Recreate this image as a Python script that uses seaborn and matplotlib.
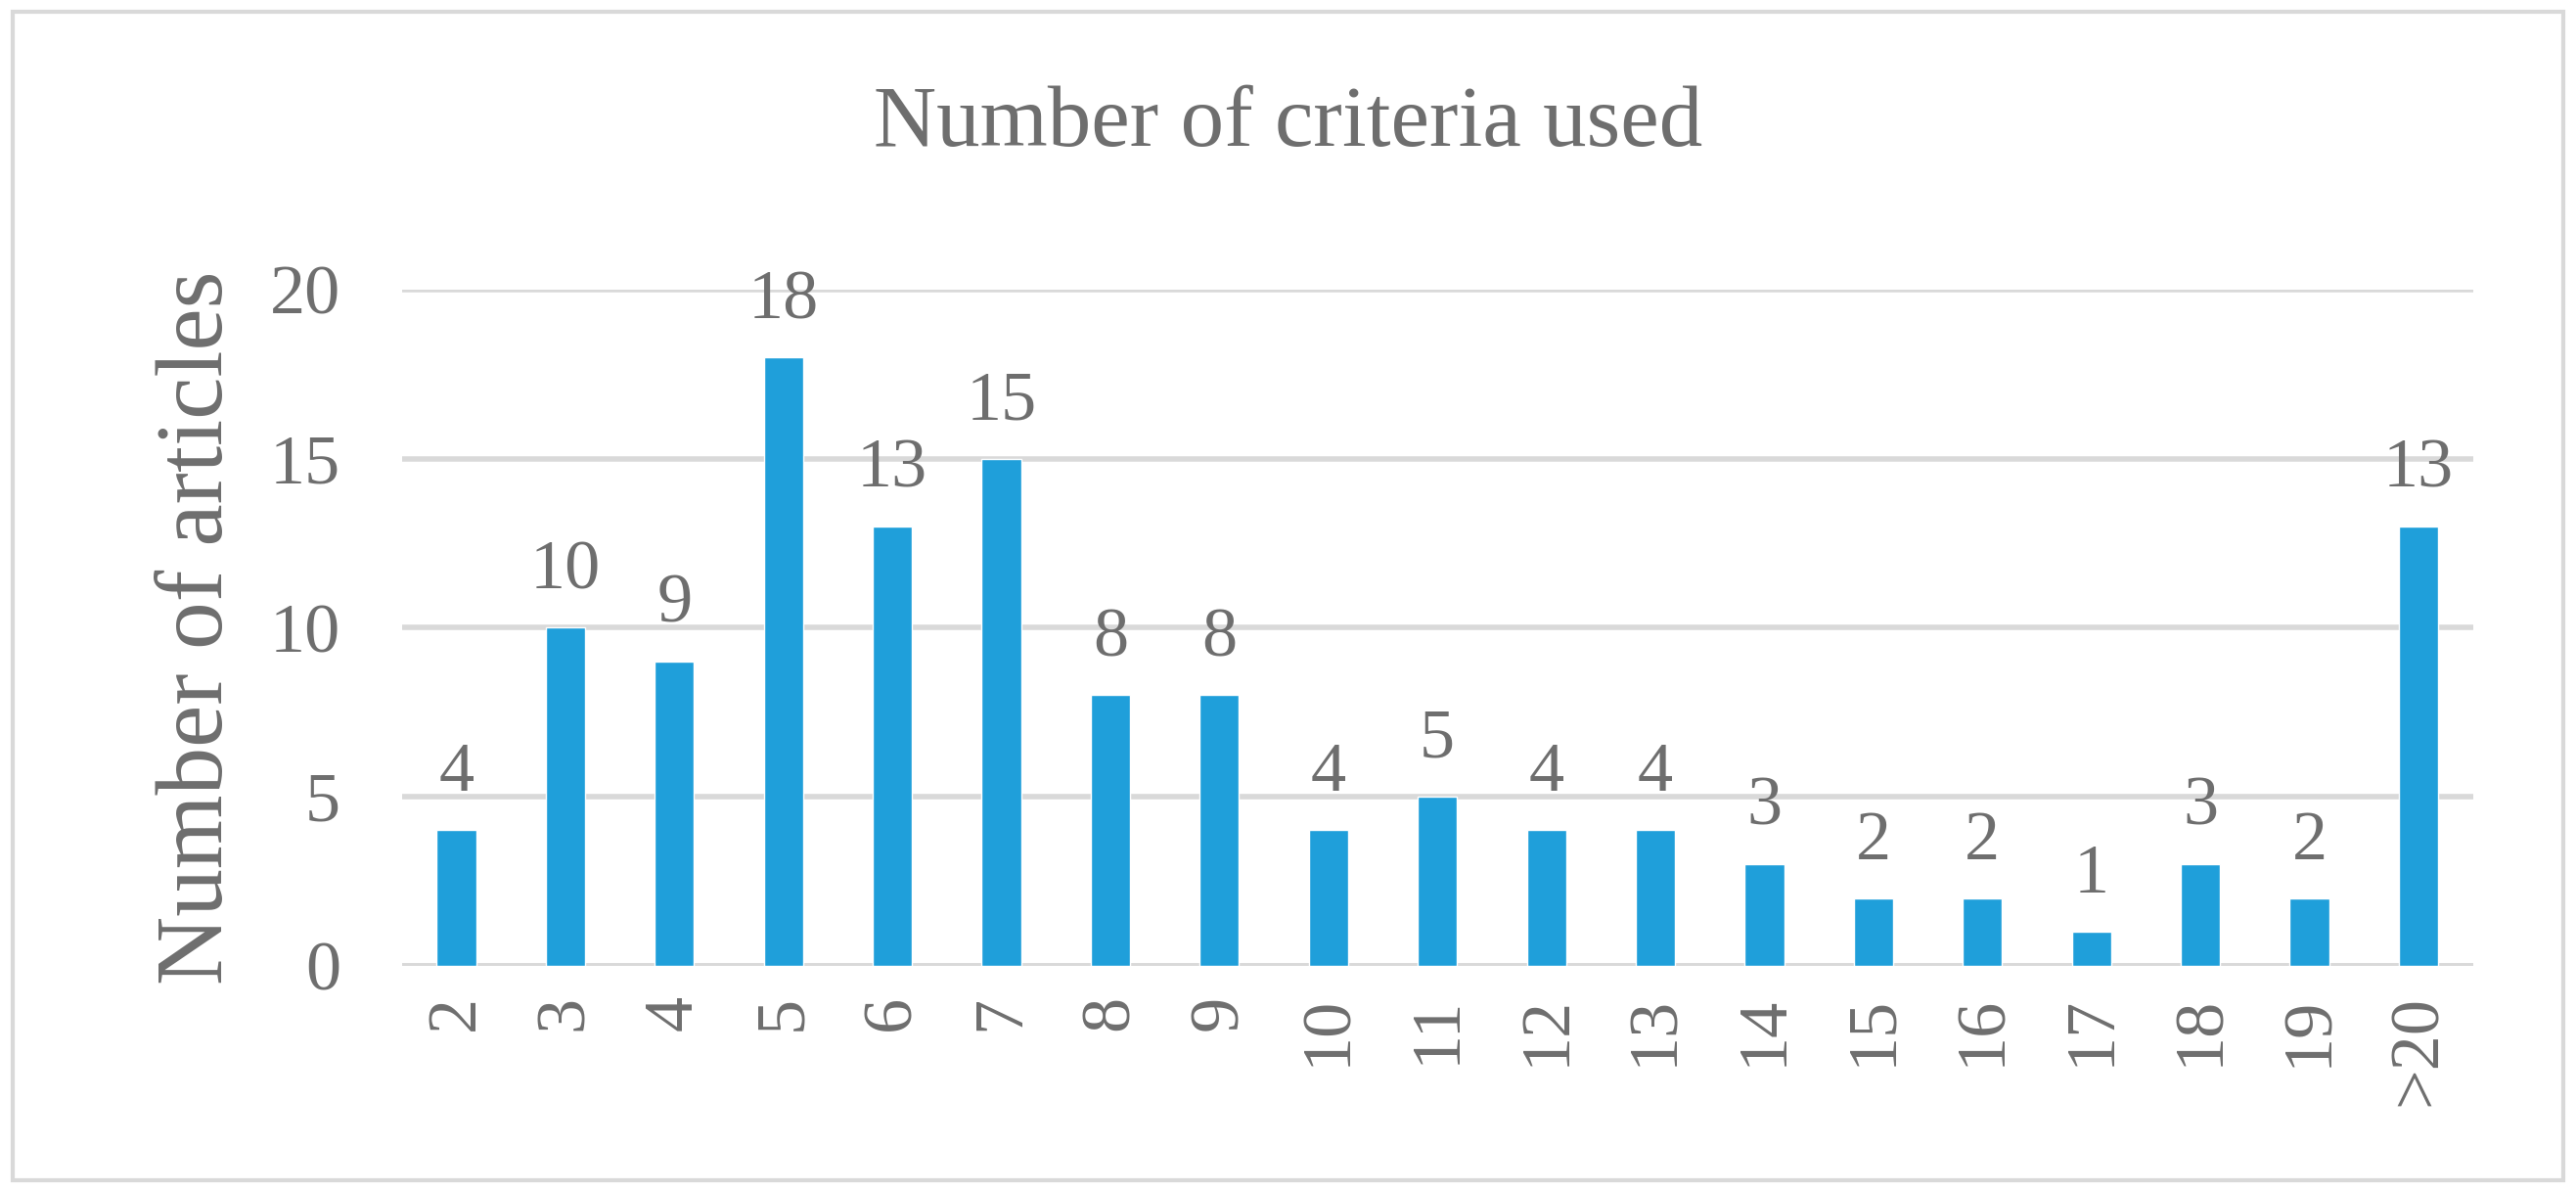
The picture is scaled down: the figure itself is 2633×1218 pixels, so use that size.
import matplotlib
matplotlib.use("Agg")
import matplotlib.pyplot as plt
import seaborn as sns
import pandas as pd
from matplotlib.patches import Rectangle

categories = ["2", "3", "4", "5", "6", "7", "8", "9", "10", "11", "12", "13",
              "14", "15", "16", "17", "18", "19", ">20"]
articles = [4, 10, 9, 18, 13, 15, 8, 8, 4, 5, 4, 4, 3, 2, 2, 1, 3, 2, 13]

df = pd.DataFrame({"criteria": categories, "articles": articles})

sns.set_theme(style="white")
plt.rcParams["font.family"] = ["Liberation Serif", "DejaVu Serif"]
grey = "#6e6e6e"

fig = plt.figure(figsize=(26.33, 12.18), dpi=100)
ax = fig.add_axes([0.156, 0.19, 0.804, 0.567])
sns.barplot(data=df, x="criteria", y="articles", color="#1f9fda",
            width=0.36, saturation=1, ax=ax, zorder=3)

ax.set_ylim(0, 20)
ax.set_yticks([0, 5, 10, 15, 20])
ax.yaxis.grid(True, color="#d9d9d9", linewidth=4, zorder=0)
for s in ax.spines.values():
    s.set_visible(False)
ax.axhline(0, color="#d9d9d9", linewidth=4, zorder=1)
ax.tick_params(axis="both", length=0, labelsize=52, colors=grey)
ax.tick_params(axis="x", labelrotation=90, pad=22)
ax.tick_params(axis="y", pad=45)
ax.set_xlabel("")
ax.set_ylabel("Number of articles", fontsize=70, color=grey, labelpad=20)

for i, v in enumerate(articles):
    ax.annotate(str(v), (i, v), xytext=(0, 18), textcoords="offset points",
                ha="center", va="bottom", fontsize=52, color=grey,
                annotation_clip=False)

fig.text(0.5, 0.895, "Number of criteria used", ha="center", va="center",
         fontsize=64, color=grey)
fig.patches.append(Rectangle((0.005, 0.01), 0.99, 0.98, transform=fig.transFigure,
                             fill=False, edgecolor="#d9d9d9", linewidth=3))

fig.savefig("out.png", dpi=100)
